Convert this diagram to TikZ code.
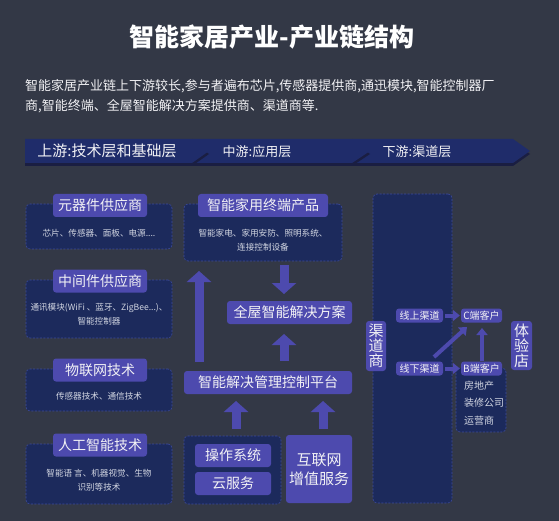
\documentclass[tikz,border=0pt]{standalone}
\usepackage{fontspec}
\setmainfont{Noto Sans CJK SC}
\usetikzlibrary{arrows.meta}
\definecolor{bgc}{HTML}{333846}
\definecolor{pillc}{HTML}{4D4AAE}
\definecolor{contc}{HTML}{1C2A5C}
\definecolor{dashc}{HTML}{3C4A9C}
\definecolor{banc}{HTML}{1F2C6A}
\definecolor{shadc}{HTML}{1A1E42}
\definecolor{txtc}{HTML}{F2F2F5}
\definecolor{smallc}{HTML}{D2D6E2}
\tikzset{
 pill/.style={fill=pillc, rounded corners=3pt, text=txtc, inner sep=0pt, font=\fontsize{14}{16}\selectfont},
 spill/.style={fill=pillc, rounded corners=3pt, text=txtc, inner sep=0pt, font=\fontsize{10}{12}\selectfont, minimum height=14pt},
 cont/.style={fill=contc, draw=dashc, dash pattern=on 2pt off 1.5pt, line width=0.6pt, rounded corners=4pt, inner sep=0pt},
 small/.style={text=smallc, font=\fontsize{8.6}{14}\selectfont, align=center, inner sep=0pt},
 barr/.style={draw=pillc, line width=9pt, -{Triangle[width=24pt,length=11pt]}},
 sarr/.style={draw=pillc, line width=4pt, -{Triangle[width=11pt,length=7pt]}},
 chev/.style={fill=banc},
 chevs/.style={fill=shadc},
 bantext/.style={text=txtc, inner sep=0pt},
}
\begin{document}
\begin{tikzpicture}[x=1pt,y=-1pt]
\useasboundingbox (0,0) rectangle (559,521);
\fill[bgc] (0,0) rectangle (559,521);

% title and description
\node[text=white, font=\fontsize{25}{30}\selectfont\bfseries] (title) at (272,37) {智能家居产业-产业链结构};
\node[anchor=west, text=txtc, inner sep=0pt, font=\fontsize{13}{16}\selectfont] (desc1) at (25,86) {智能家居产业链上下游较长,参与者遍布芯片,传感器提供商,通迅模块,智能控制器厂};
\node[anchor=west, text=txtc, inner sep=0pt, font=\fontsize{13}{16}\selectfont] (desc2) at (25,106) {商,智能终端、全屋智能解决方案提供商、渠道商等.};

% banner
\fill[chevs] (352,142) -- (513,142) -- (530,154) -- (513,166) -- (352,166) -- cycle;
\fill[chev] (352,139) -- (513,139) -- (530,151) -- (513,163) -- (352,163) -- cycle;
\fill[chevs] (192,142) -- (352,142) -- (370,154) -- (352,166) -- (192,166) -- cycle;
\fill[chev] (192,139) -- (352,139) -- (370,151) -- (352,163) -- (192,163) -- cycle;
\fill[chevs] (25,142) -- (192,142) -- (209,154) -- (192,166) -- (25,166) -- cycle;
\fill[chev] (25,139) -- (192,139) -- (209,151) -- (192,163) -- (25,163) -- cycle;
\node[bantext, font=\fontsize{15}{18}\selectfont] (b1) at (107,151) {上游:技术层和基础层};
\node[bantext, font=\fontsize{13}{16}\selectfont] (b2) at (257,152) {中游:应用层};
\node[bantext, font=\fontsize{13}{16}\selectfont] (b3) at (417,152) {下游:渠道层};

% left column
\node[cont, minimum width=146pt, minimum height=45pt] (c1) at (99,226.5) {};
\node[small] (t1) at (99,233) {芯片、传感器、面板、电源....};
\node[pill, minimum width=94pt, minimum height=23pt] (p1) at (100,205.5) {元器件供应商};

\node[cont, minimum width=146pt, minimum height=58pt] (c2) at (99,309) {};
\node[small] (t2) at (99,314.5) {通讯模块(WiFi 、蓝牙、ZigBee...)、\\智能控制器};
\node[pill, minimum width=94pt, minimum height=23pt] (p2) at (100,281) {中间件供应商};

\node[cont, minimum width=146pt, minimum height=42pt] (c3) at (99,390) {};
\node[small] (t3) at (99,396) {传感器技术、通信技术};
\node[pill, minimum width=94pt, minimum height=23pt] (p3) at (100,370) {物联网技术};

\node[cont, minimum width=146pt, minimum height=60pt] (c4) at (99,474) {};
\node[small] (t4) at (99,480) {智能语 言、机器视觉、生物\\识别等技术};
\node[pill, minimum width=94pt, minimum height=23pt] (p4) at (100,445) {人工智能技术};

% middle column
\node[cont, minimum width=158pt, minimum height=57pt] (c5) at (263,232.5) {};
\node[small] (t5) at (263,240) {智能家电、家用安防、照明系统、\\连接控制设备};
\node[pill, minimum width=130pt, minimum height=23pt] (p5) at (263,205.5) {智能家用终端产品};

\node[pill, minimum width=125pt, minimum height=23pt] (whole) at (289.5,312.5) {全屋智能解决方案};
\node[pill, minimum width=168pt, minimum height=23pt] (plat) at (268,382.5) {智能解决管理控制平台};

\node[cont, minimum width=97pt, minimum height=68pt] (c6) at (232.5,470) {};
\node[pill, minimum width=76pt, minimum height=23pt] (os) at (233,455.5) {操作系统};
\node[pill, minimum width=76pt, minimum height=23pt] (cloud) at (233,483.5) {云服务};
\node[pill, minimum width=66pt, minimum height=68pt, align=center, font=\fontsize{15}{19}\selectfont] (inet) at (319,469) {互联网\\增值服务};

\coordinate (a1s) at (284,265);
\coordinate (a1e) at (284,294);
\coordinate (a2s) at (284,361);
\coordinate (a2e) at (284,334);
\coordinate (a3s) at (199,362);
\coordinate (a3e) at (199,271);
\coordinate (a4s) at (236,429);
\coordinate (a4e) at (236,401);
\coordinate (a5s) at (323,429);
\coordinate (a5e) at (323,401);
\draw[barr] (a1s) -- (a1e);
\draw[barr] (a2s) -- (a2e);
\draw[barr] (a3s) -- (a3e);
\draw[barr] (a4s) -- (a4e);
\draw[barr] (a5s) -- (a5e);

% right column
\node[cont, minimum width=79pt, minimum height=309pt] (c7) at (412.5,348.5) {};
\node[pill, minimum width=20pt, minimum height=50pt, align=center, font=\fontsize{15}{15}\selectfont] (qds) at (376,346) {渠\\道\\商};
\node[pill, minimum width=21pt, minimum height=49pt, align=center, font=\fontsize{15}{15}\selectfont] (tyd) at (521.5,345.5) {体\\验\\店};
\node[spill, minimum width=47pt] (on) at (419.5,315.5) {线上渠道};
\node[spill, minimum width=47pt] (off) at (419.5,368.5) {线下渠道};
\node[cont, minimum width=50pt, minimum height=64pt] (c8) at (481,400) {};
\node[spill, minimum width=41pt] (cc) at (481.5,315.5) {C端客户};
\node[spill, minimum width=41pt] (bc) at (481.5,368.5) {B端客户};
\node[small, anchor=west, font=\fontsize{10}{12}\selectfont] (r1) at (464,386) {房地产};
\node[small, anchor=west, font=\fontsize{10}{12}\selectfont] (r2) at (464,403) {装修公司};
\node[small, anchor=west, font=\fontsize{10}{12}\selectfont] (r3) at (464,421) {运营商};

\coordinate (d1) at (434,357);
\coordinate (d2) at (467,327);
\coordinate (u1) at (482,361);
\coordinate (u2) at (482,328);
\draw[sarr] (on.east) ++(2,0) -- ([xshift=-1pt]cc.west);
\draw[sarr] (off.east) ++(2,0) -- ([xshift=-1pt]bc.west);
\draw[sarr] (d1) -- (d2);
\draw[sarr] (u1) -- (u2);
\end{tikzpicture}
\end{document}
